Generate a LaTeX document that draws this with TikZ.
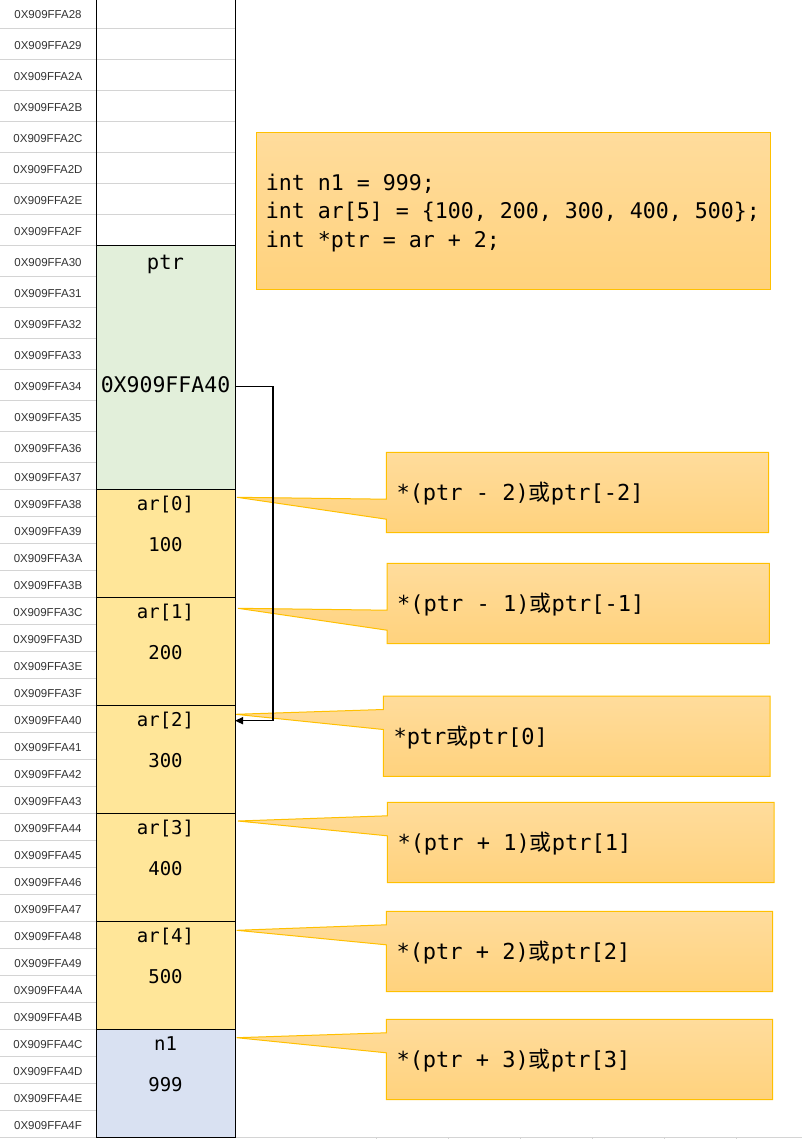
\documentclass[tikz,border=0pt]{standalone}
\usepackage{fontspec}
\setmainfont{Liberation Sans}
\setmonofont{DejaVu Sans Mono}
\newfontfamily\cjk{Noto Sans CJK SC}
\usepackage{xcolor}
\usepackage{tikz}
\usetikzlibrary{positioning}
\usetikzlibrary{arrows.meta}
\pgfdeclarelayer{nodelayer}
\pgfdeclarelayer{edgelayer}
\pgfsetlayers{edgelayer,nodelayer,main}
\definecolor{ptrgreen}{HTML}{E2EFDA}
\definecolor{argold}{HTML}{FFE699}
\definecolor{nblue}{HTML}{D9E1F2}
\definecolor{calltop}{HTML}{FFDC9C}
\definecolor{callbottom}{HTML}{FFD27D}
\definecolor{callborder}{HTML}{FFC000}
\definecolor{gridgray}{HTML}{D4D4D4}
\definecolor{addrtext}{HTML}{333333}
\newcommand{\huo}{{\cjk 或}}
\newcommand{\codefont}[1]{\ttfamily\fontsize{#1}{28.3}\selectfont\spaceskip 0.602em\relax}
\tikzset{
    addr/.style = {font=\fontsize{11.5}{13}\selectfont, text=addrtext, inner sep=0pt, text height=8.3pt, text depth=0pt},
    cell/.style = {draw=black, line width=1pt, inner sep=0pt, outer sep=0pt, minimum width=139pt, anchor=north west},
    cellname/.style = {font=\ttfamily\fontsize{19}{22}\selectfont, inner sep=0pt, anchor=base},
    ptrname/.style = {cellname, font=\ttfamily\fontsize{20.5}{24}\selectfont},
    ptrvalue/.style = {cellname, font=\ttfamily\fontsize{21.5}{24}\selectfont},
    gridline/.style = {draw=gridgray, line width=1pt},
    callshape/.style = {draw=callborder, line width=1pt, top color=calltop, bottom color=callbottom},
    calltext/.style = {font=\codefont{22}, text width=362pt, align=justify, inner xsep=10pt, inner ysep=0pt, minimum height=80pt, text height=16pt, text depth=0pt, anchor=north west},
    codebox/.style = {callshape, font=\codefont{21.6}, text width=496pt, align=justify, inner xsep=9pt, inner ysep=0pt, minimum height=157pt, text height=16pt, text depth=57.6pt, anchor=north west},
    ptrarrow/.style = {-{Triangle[length=8pt,width=7pt]}, line width=1.5pt}
}
\begin{document}
\begin{tikzpicture}[x=1pt, y=-1pt]
    \useasboundingbox (0,0) rectangle (802,1139);
    \begin{pgfonlayer}{nodelayer}
        \node [style=addr] (28) at (48, 14.8) {0X909FFA28};
        \node [style=addr] (29) at (48, 45.8) {0X909FFA29};
        \node [style=addr] (2A) at (48, 76.8) {0X909FFA2A};
        \node [style=addr] (2B) at (48, 107.8) {0X909FFA2B};
        \node [style=addr] (2C) at (48, 138.8) {0X909FFA2C};
        \node [style=addr] (2D) at (48, 169.8) {0X909FFA2D};
        \node [style=addr] (2E) at (48, 200.8) {0X909FFA2E};
        \node [style=addr] (2F) at (48, 231.8) {0X909FFA2F};
        \node [style=addr] (30) at (48, 262.8) {0X909FFA30};
        \node [style=addr] (31) at (48, 293.8) {0X909FFA31};
        \node [style=addr] (32) at (48, 324.8) {0X909FFA32};
        \node [style=addr] (33) at (48, 355.8) {0X909FFA33};
        \node [style=addr] (34) at (48, 386.8) {0X909FFA34};
        \node [style=addr] (35) at (48, 417.8) {0X909FFA35};
        \node [style=addr] (36) at (48, 448.8) {0X909FFA36};
        \node [style=addr] (37) at (48, 477.8) {0X909FFA37};
        \node [style=addr] (38) at (48, 504.8) {0X909FFA38};
        \node [style=addr] (39) at (48, 531.8) {0X909FFA39};
        \node [style=addr] (3A) at (48, 558.8) {0X909FFA3A};
        \node [style=addr] (3B) at (48, 585.8) {0X909FFA3B};
        \node [style=addr] (3C) at (48, 612.8) {0X909FFA3C};
        \node [style=addr] (3D) at (48, 639.8) {0X909FFA3D};
        \node [style=addr] (3E) at (48, 666.8) {0X909FFA3E};
        \node [style=addr] (3F) at (48, 693.8) {0X909FFA3F};
        \node [style=addr] (40) at (48, 720.8) {0X909FFA40};
        \node [style=addr] (41) at (48, 747.8) {0X909FFA41};
        \node [style=addr] (42) at (48, 774.8) {0X909FFA42};
        \node [style=addr] (43) at (48, 801.8) {0X909FFA43};
        \node [style=addr] (44) at (48, 828.8) {0X909FFA44};
        \node [style=addr] (45) at (48, 855.8) {0X909FFA45};
        \node [style=addr] (46) at (48, 882.8) {0X909FFA46};
        \node [style=addr] (47) at (48, 909.8) {0X909FFA47};
        \node [style=addr] (48) at (48, 936.8) {0X909FFA48};
        \node [style=addr] (49) at (48, 963.8) {0X909FFA49};
        \node [style=addr] (4A) at (48, 990.8) {0X909FFA4A};
        \node [style=addr] (4B) at (48, 1017.8) {0X909FFA4B};
        \node [style=addr] (4C) at (48, 1044.8) {0X909FFA4C};
        \node [style=addr] (4D) at (48, 1071.8) {0X909FFA4D};
        \node [style=addr] (4E) at (48, 1098.8) {0X909FFA4E};
        \node [style=addr] (4F) at (48, 1125.8) {0X909FFA4F};

        \node [style=cell, minimum height=248pt] (free) at (96, -2.7) {};
        \node [style=cell, fill=ptrgreen, minimum height=244pt] (ptr) at (96, 245.3) {};
        \node [style=cell, fill=argold, minimum height=108pt] (ar0) at (96, 489.3) {};
        \node [style=cell, fill=argold, minimum height=108pt] (ar1) at (96, 597.3) {};
        \node [style=cell, fill=argold, minimum height=108pt] (ar2) at (96, 705.3) {};
        \node [style=cell, fill=argold, minimum height=108pt] (ar3) at (96, 813.3) {};
        \node [style=cell, fill=argold, minimum height=108pt] (ar4) at (96, 921.3) {};
        \node [style=cell, fill=nblue, minimum height=108pt] (n1) at (96, 1029.3) {};

        \node [style=ptrname] (ptrlabel) at (165.5, 270) {ptr};
        \node [style=ptrvalue] (ptrval) at (165.5, 392) {0X909FFA40};
        \node [style=cellname] (ar0label) at (165.5, 510.7) {ar[0]};
        \node [style=cellname] (ar0val) at (165.5, 551) {100};
        \node [style=cellname] (ar1label) at (165.5, 618.7) {ar[1]};
        \node [style=cellname] (ar1val) at (165.5, 659) {200};
        \node [style=cellname] (ar2label) at (165.5, 726.7) {ar[2]};
        \node [style=cellname] (ar2val) at (165.5, 767) {300};
        \node [style=cellname] (ar3label) at (165.5, 834.7) {ar[3]};
        \node [style=cellname] (ar3val) at (165.5, 875) {400};
        \node [style=cellname] (ar4label) at (165.5, 942.7) {ar[4]};
        \node [style=cellname] (ar4val) at (165.5, 983) {500};
        \node [style=cellname] (n1label) at (165.5, 1050.7) {n1};
        \node [style=cellname] (n1val) at (165.5, 1091) {999};

        \node [style=codebox] (code) at (256.3, 132.3) {int n1 = 999;\\int ar[5] = \{100, 200, 300, 400, 500\};\\int *ptr = ar + 2;};

        \node [style=calltext] (m2) at (386.3, 452.3) {*(ptr - 2)\huo{}ptr[-2]};
        \node [style=calltext] (m1) at (387, 563.3) {*(ptr - 1)\huo{}ptr[-1]};
        \node [style=calltext, text width=366.4pt] (p0) at (383.3, 696) {*ptr\huo{}ptr[0]};
        \node [style=calltext, text width=366.4pt] (p1) at (387.3, 802.3) {*(ptr + 1)\huo{}ptr[1]};
        \node [style=calltext, text width=366pt] (p2) at (386.3, 911.3) {*(ptr + 2)\huo{}ptr[2]};
        \node [style=calltext, text width=366pt] (p3) at (386.3, 1019.3) {*(ptr + 3)\huo{}ptr[3]};

        \coordinate (t1) at (237, 497.3);
        \coordinate (t2) at (238, 608.3);
        \coordinate (t3) at (235.5, 714.3);
        \coordinate (t4) at (238, 821);
        \coordinate (t5) at (236.7, 930.3);
        \coordinate (t6) at (236.7, 1037.7);
        \coordinate (b1) at (273, 386.7);
        \coordinate (b2) at (273, 720.7);
    \end{pgfonlayer}
    \begin{pgfonlayer}{edgelayer}
        \foreach \k in {1,...,7}
            \draw [style=gridline] (0, {-2.7+31*\k}) -- (235, {-2.7+31*\k});
        \foreach \k in {8,...,15}
            \draw [style=gridline] (0, {-2.7+31*\k}) -- (96, {-2.7+31*\k});
        \foreach \j in {0,...,23}
            \draw [style=gridline] (0, {489.3+27*\j}) -- (96, {489.3+27*\j});
        \draw [style=gridline] (0, 1137.3) -- (802, 1137.3);
        \foreach \x in {376,448,...,736}
            \draw [style=gridline] (\x, 1137.3) -- (\x, 1139);

        \path [style=callshape] (m2.north west) -- (m2.north east) -- (m2.south east) -- (m2.south west)
            -- ([yshift=-26.7pt]m2.west) -- (t1) -- ([yshift=-6.7pt]m2.west) -- cycle;
        \path [style=callshape] (m1.north west) -- (m1.north east) -- (m1.south east) -- (m1.south west)
            -- ([yshift=-26.7pt]m1.west) -- (t2) -- ([yshift=-6.7pt]m1.west) -- cycle;
        \path [style=callshape] (p0.north west) -- (p0.north east) -- (p0.south east) -- (p0.south west)
            -- ([yshift=6.7pt]p0.west) -- (t3) -- ([yshift=26.7pt]p0.west) -- cycle;
        \path [style=callshape] (p1.north west) -- (p1.north east) -- (p1.south east) -- (p1.south west)
            -- ([yshift=6.7pt]p1.west) -- (t4) -- ([yshift=26.7pt]p1.west) -- cycle;
        \path [style=callshape] (p2.north west) -- (p2.north east) -- (p2.south east) -- (p2.south west)
            -- ([yshift=6.7pt]p2.west) -- (t5) -- ([yshift=26.7pt]p2.west) -- cycle;
        \path [style=callshape] (p3.north west) -- (p3.north east) -- (p3.south east) -- (p3.south west)
            -- ([yshift=6.7pt]p3.west) -- (t6) -- ([yshift=26.7pt]p3.west) -- cycle;
    \end{pgfonlayer}
    \draw [style=ptrarrow] (ptr.east |- b1) -- (b1) -- (b2) -- (ar2.east |- b2);
\end{tikzpicture}
\end{document}
